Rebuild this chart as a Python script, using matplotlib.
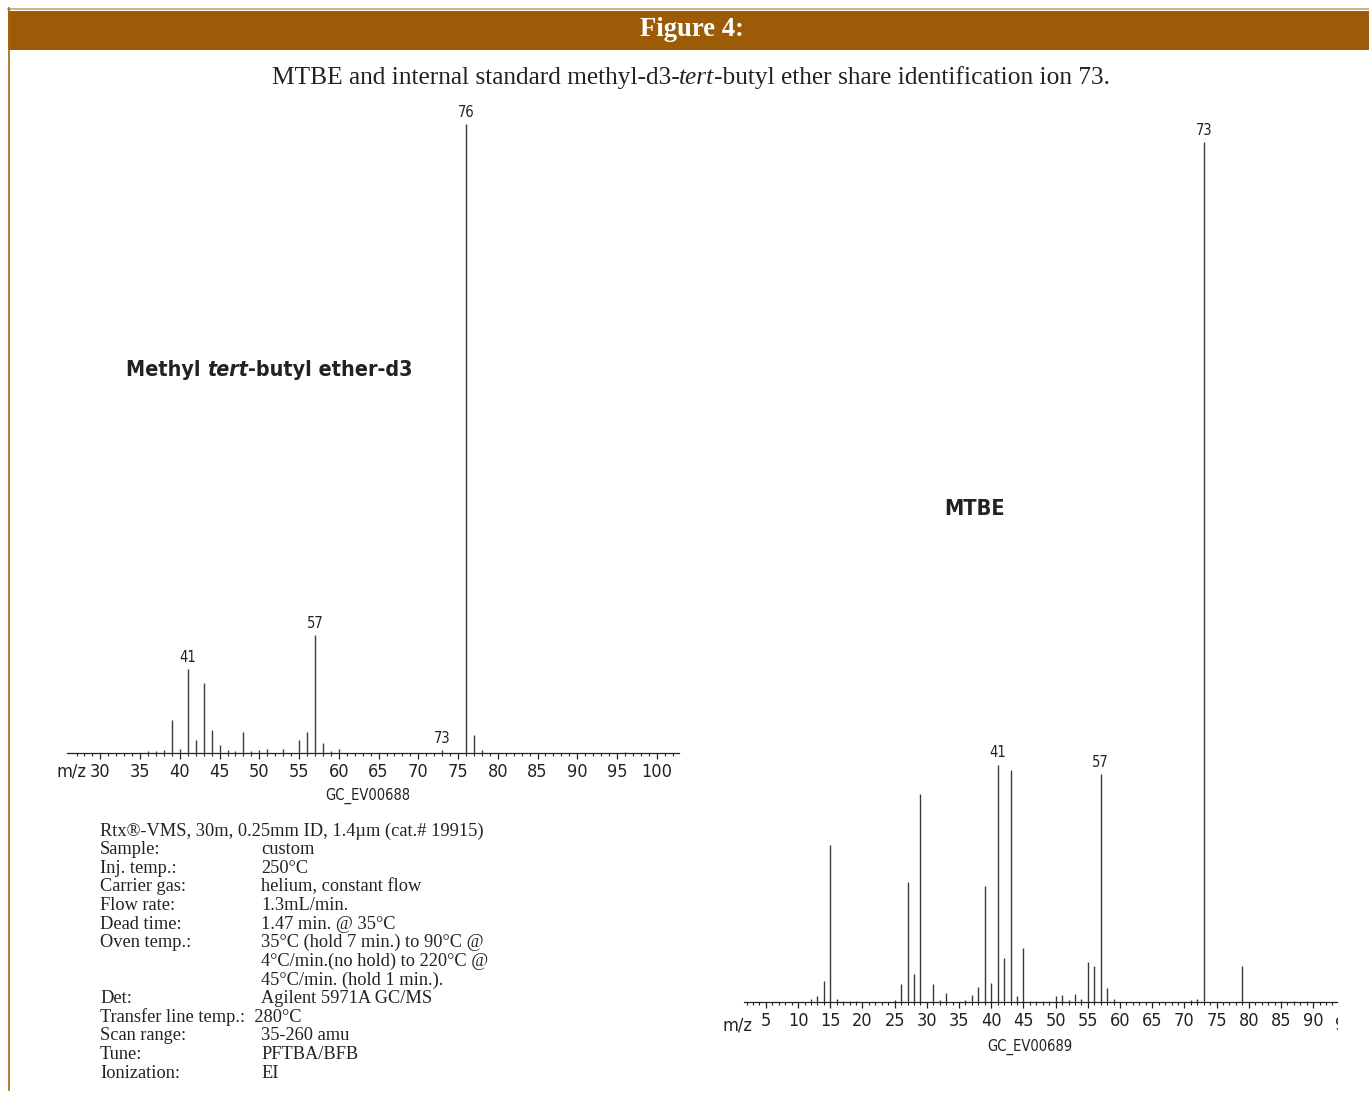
import matplotlib
matplotlib.use('Agg')
import matplotlib.pyplot as plt
import matplotlib.transforms as mtransforms
from matplotlib import font_manager
from matplotlib.offsetbox import TextArea, HPacker, AnnotationBbox
from matplotlib.patches import Rectangle
from matplotlib.lines import Line2D
from matplotlib.ticker import FixedLocator
import numpy as np

# ---- data (relative abundance, base peak = 100) ----
d3_mz = [36, 37, 38, 39, 40, 41, 42, 43, 44, 45, 46, 47, 48, 49, 50, 51, 53,
         55, 56, 57, 58, 59, 60, 73, 76, 77, 78, 96]
d3_int = [0.3, 0.3, 0.5, 5.2, 0.7, 13.4, 2.1, 11.1, 3.7, 1.2, 0.5, 0.3, 3.3,
          0.3, 0.5, 0.6, 0.7, 2.1, 3.3, 18.7, 1.6, 0.3, 0.6, 0.5, 100, 2.9,
          0.5, 0.2]
d3_labeled = [41, 57, 73, 76]

mtbe_mz = [12, 13, 14, 15, 16, 17, 18, 19, 25, 26, 27, 28, 29, 31, 32, 33,
           36, 37, 38, 39, 40, 41, 42, 43, 44, 45, 46, 47, 48, 49, 50, 51, 52,
           53, 54, 55, 56, 57, 58, 59, 71, 72, 73, 79, 85, 87, 89]
mtbe_int = [0.3, 0.7, 2.4, 18.2, 0.3, 0.1, 0.1, 0.1, 0.2, 2.1, 13.9, 3.3,
            24.2, 2.1, 0.2, 1.1, 0.2, 0.8, 1.7, 13.5, 2.2, 27.6, 5.1, 27.0,
            0.7, 6.3, 0.1, 0.1, 0.1, 0.1, 0.7, 0.8, 0.2, 0.9, 0.3, 4.6, 4.2,
            26.5, 1.6, 0.3, 0.2, 0.3, 100, 4.2, 0.1, 0.1, 0.1]
mtbe_labeled = [41, 57, 73]

info_header = 'Rtx®-VMS, 30m, 0.25mm ID, 1.4µm (cat.# 19915)'
info_labels = ['Sample:', 'Inj. temp.:', 'Carrier gas:', 'Flow rate:',
               'Dead time:', 'Oven temp.:', '', '', 'Det:',
               'Transfer line temp.:  280°C', 'Scan range:', 'Tune:',
               'Ionization:']
info_values = ['custom', '250°C', 'helium, constant flow', '1.3mL/min.',
               '1.47 min. @ 35°C', '35°C (hold 7 min.) to 90°C @',
               '4°C/min.(no hold) to 220°C @', '45°C/min. (hold 1 min.).',
               'Agilent 5971A GC/MS', '', '35-260 amu', 'PFTBA/BFB', 'EI']

# ---- layout helpers (pixel positions -> figure fraction) ----
W, H = 1369, 1094


def fx(px):
    return px / W


def fy(py):
    return 1 - py / H


available = {f.name for f in font_manager.fontManager.ttflist}
narrow = 'Liberation Sans Narrow' if 'Liberation Sans Narrow' in available else 'DejaVu Sans'
SANS = [narrow, 'DejaVu Sans']
SERIF = ['Liberation Serif', 'DejaVu Serif']
plt.rcParams['font.family'] = SANS
plt.rcParams['font.stretch'] = 'condensed'

BROWN = '#9c5b06'
INK = '#222222'
PEAK = '#3a3a3a'

fig = plt.figure(figsize=(W / 100, H / 100), dpi=100)
renderer = fig.canvas.get_renderer()

# header band and frame lines
fig.patches.append(Rectangle((fx(8), fy(50)), fx(1369) - fx(8), fy(11) - fy(50),
                             transform=fig.transFigure, facecolor=BROWN,
                             edgecolor='none'))
fig.lines.append(Line2D([fx(8), fx(1369)], [fy(8.5), fy(8.5)],
                        transform=fig.transFigure, color='#c9a474', lw=1.2))
fig.lines.append(Line2D([fx(8.5), fx(8.5)], [fy(8), fy(1090)],
                        transform=fig.transFigure, color='#a8650e', lw=1.2))


def fitted_text(x, y, s, width_px, size, **kw):
    # shrink/grow the font so the string spans the width seen in the chart
    t = fig.text(x, y, s, fontsize=size, **kw)
    w = t.get_window_extent(renderer).width
    t.set_fontsize(size * width_px / w)
    return t


def mixed_text(parts, xy, align, size, family, width_px, weight='normal'):
    def build(sz):
        boxes = [TextArea(s, textprops=dict(fontsize=sz, family=family,
                                            fontweight=weight, fontstyle=st,
                                            color=INK))
                 for s, st in parts]
        pack = HPacker(children=boxes, pad=0, sep=0, align='baseline')
        pack.set_figure(fig)
        return pack
    w = build(size).get_bbox(renderer).width
    pack = build(size * width_px / w)
    ab = AnnotationBbox(pack, xy, xycoords='figure fraction',
                        box_alignment=align, frameon=False, pad=0)
    fig.add_artist(ab)


fitted_text(fx(692), fy(30), 'Figure 4:', 104, 19, color='white',
            fontweight='bold', family=SERIF, ha='center', va='center')

mixed_text([('MTBE and internal standard methyl-d3-', 'normal'),
            ('tert', 'italic'),
            ('-butyl ether share identification ion 73.', 'normal')],
           (fx(691), fy(78)), (0.5, 0.5), 18, SERIF, 841)


def draw_spectrum(ax, mz, inten, labeled, xlim, majors, minors):
    ax.vlines(mz, 0, inten, color=PEAK, lw=1.0, clip_on=False)
    ax.set_xlim(*xlim)
    ax.set_ylim(0, 100)
    ax.patch.set_visible(False)
    for s in ['top', 'right', 'left']:
        ax.spines[s].set_visible(False)
    ax.spines['bottom'].set_linewidth(0.9)
    ax.spines['bottom'].set_color(INK)
    ax.set_yticks([])
    ax.xaxis.set_major_locator(FixedLocator(majors))
    ax.xaxis.set_minor_locator(FixedLocator(minors))
    ax.tick_params(axis='x', which='major', direction='out', length=4.5,
                   width=0.9, color=INK, labelsize=13, pad=2.5,
                   labelcolor=INK)
    ax.tick_params(axis='x', which='minor', direction='out', length=2.3,
                   width=0.8, color=INK)
    lookup = dict(zip(mz, inten))
    for m in labeled:
        ax.annotate(str(m), xy=(m, lookup[m]), xytext=(0, 3),
                    textcoords='offset points', ha='center', va='bottom',
                    fontsize=10.5, color=INK, annotation_clip=False)


# left spectrum: methyl-d3-tert-butyl ether
ax1 = fig.add_axes([fx(67), fy(753), fx(679) - fx(67), fy(124) - fy(753)])
draw_spectrum(ax1, d3_mz, d3_int, d3_labeled, (25.8, 102.8),
              np.arange(30, 101, 5), np.arange(27, 103))
fig.text(fx(86), fy(772), 'm/z', fontsize=13, ha='right', va='center',
         color=INK)
fig.text(fx(368), fy(796), 'GC_EV00688', fontsize=10.5, ha='center',
         va='center', color=INK)
mixed_text([('Methyl ', 'normal'), ('tert', 'italic'),
            ('-butyl ether-d3', 'normal')],
           (fx(126), fy(370)), (0, 0.5), 17, SANS, 286, weight='bold')

# right spectrum: MTBE
ax2 = fig.add_axes([fx(744), fy(1002), fx(1337) - fx(744), fy(142) - fy(1002)])
draw_spectrum(ax2, mtbe_mz, mtbe_int, mtbe_labeled, (1.6, 93.7),
              np.arange(5, 91, 5), np.arange(2, 94))
fig.text(fx(753), fy(1025), 'm/z', fontsize=13, ha='right', va='center',
         color=INK)
cut = ax2.text(95, fy(1025), '95', fontsize=13, ha='center', va='center',
               color=INK,
               transform=mtransforms.blended_transform_factory(ax2.transData,
                                                               fig.transFigure))
cut.set_clip_box(mtransforms.TransformedBbox(
    mtransforms.Bbox.from_extents(0, 0, fx(1338), 1), fig.transFigure))
cut.set_clip_on(True)
fig.text(fx(1030), fy(1047), 'GC_EV00689', fontsize=10.5, ha='center',
         va='center', color=INK)
fitted_text(fx(975), fy(509), 'MTBE', 61, 17, fontweight='bold',
            ha='center', va='center', color=INK)

# instrument conditions
fig.text(fx(100), fy(831), info_header, fontsize=13.2, family=SERIF,
         ha='left', va='center', color=INK)
row_step = (1073 - 831) / 13
for i, (lab, val) in enumerate(zip(info_labels, info_values)):
    y = 831 + (i + 1) * row_step
    if lab:
        fig.text(fx(100), fy(y), lab, fontsize=13.2, family=SERIF,
                 ha='left', va='center', color=INK)
    if val:
        fig.text(fx(261), fy(y), val, fontsize=13.2, family=SERIF,
                 ha='left', va='center', color=INK)

fig.savefig('out.png', dpi=100)
